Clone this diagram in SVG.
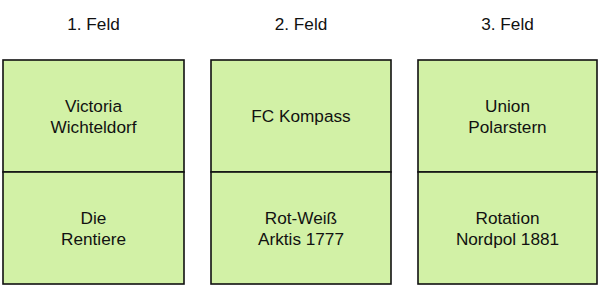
<svg xmlns="http://www.w3.org/2000/svg" width="600" height="291" viewBox="0 0 600 291">
<style>
.box{fill:#d2f1a6;stroke:#111;stroke-width:1.6}
text{font-family:"Liberation Sans",Arial,sans-serif;font-size:17.2px;fill:#111;text-anchor:middle}
</style>
<rect width="600" height="291" fill="#fff"/>
<g id="col1">
<text x="93.5" y="30">1. Feld</text>
<g id="n1a"><rect class="box" x="3" y="60" width="181" height="112"/><text x="93.5" y="112">Victoria</text><text x="93.5" y="133">Wichteldorf</text></g>
<g id="n1b"><rect class="box" x="3" y="172" width="181" height="112"/><text x="93.5" y="224">Die</text><text x="93.5" y="245">Rentiere</text></g>
</g>
<g id="col2">
<text x="301" y="30">2. Feld</text>
<g id="n2a"><rect class="box" x="211" y="60" width="180" height="112"/><text x="301" y="122">FC Kompass</text></g>
<g id="n2b"><rect class="box" x="211" y="172" width="180" height="112"/><text x="301" y="224">Rot-Weiß</text><text x="301" y="245">Arktis 1777</text></g>
</g>
<g id="col3">
<text x="507.5" y="30">3. Feld</text>
<g id="n3a"><rect class="box" x="418" y="60" width="179" height="112"/><text x="507.5" y="112">Union</text><text x="507.5" y="133">Polarstern</text></g>
<g id="n3b"><rect class="box" x="418" y="172" width="179" height="112"/><text x="507.5" y="224">Rotation</text><text x="507.5" y="245">Nordpol 1881</text></g>
</g>
<g id="connectors"/>
</svg>
